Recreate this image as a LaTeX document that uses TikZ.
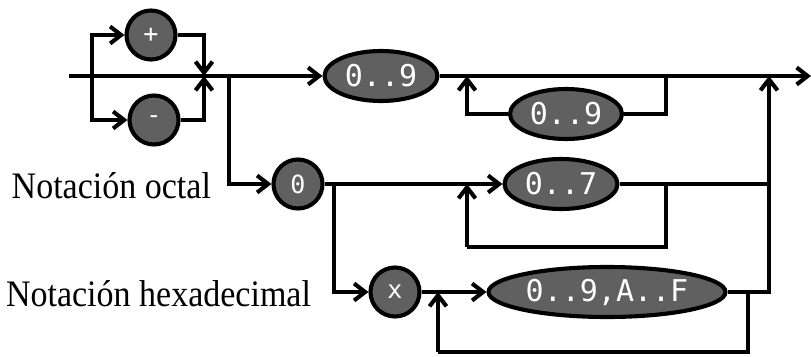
\documentclass[tikz,border=0pt]{standalone}
\usepackage{fontspec}
\setmainfont{Liberation Serif}
\newfontfamily\codefont{DejaVu Sans Mono}
\usetikzlibrary{arrows.meta,shapes.geometric}
\definecolor{nodegray}{HTML}{606060}
\begin{document}
\begin{tikzpicture}[x=1pt,y=-1pt,line width=4.1pt,
  term/.style={draw=black,fill=nodegray,text=white,inner sep=0pt},
  rnd/.style={term,circle,minimum size=49pt,font=\codefont\fontsize{25}{28}\selectfont},
  ell/.style={term,ellipse,minimum height=50pt,font=\codefont\fontsize{30}{33}\selectfont},
  arr/.style={-{Straight Barb[length=11pt,width=17pt]}},
  lbl/.style={font=\fontsize{34}{40}\selectfont,anchor=east,inner sep=0pt}]
\useasboundingbox (0,0) rectangle (811,356);
% nodes
\node[rnd] (plus) at (151,35) {+};
\node[rnd] (minus) at (154,120) {-};
\node[ell,minimum width=113pt] (d9) at (381,76) {0..9};
\node[ell,minimum width=112pt] (d9b) at (566,114) {0..9};
\node[rnd] (zero) at (298,184) {0};
\node[ell,minimum width=113pt] (d7) at (561,184) {0..7};
\node[rnd] (xn) at (395,292) {x};
\node[ell,minimum width=237pt] (hex) at (607,292) {0..9,A..F};
\node[lbl] (oct) at (213,186) {\scalebox{1}[1.1]{Notación octal}};
\node[lbl] (hxl) at (313,294) {\scalebox{1}[1.1]{Notación hexadecimal}};
% coordinates
\coordinate (start) at (69,76);
\coordinate (end) at (811,76);
\coordinate (sp) at (92,76);
\coordinate (jm) at (204,76);
\coordinate (b1) at (229,76);
\coordinate (l1r) at (666,76);
\coordinate (l1l) at (467,76);
\coordinate (jr) at (769,76);
\coordinate (jo) at (769,184);
\coordinate (b2) at (334,184);
\coordinate (l2r) at (666,184);
\coordinate (l2rb) at (666,247);
\coordinate (l2lb) at (467,247);
\coordinate (l2l) at (467,184);
\coordinate (l3r) at (748,292);
\coordinate (l3rb) at (748,352);
\coordinate (l3lb) at (438,352);
\coordinate (l3l) at (438,292);
% connectors
\draw[arr] (start) -- (d9);
\draw[arr] (d9) -- (end);
\draw (sp) ++(0,-41) -- ++(0,84);
\draw[arr] (sp) |- (plus);
\draw[arr] (sp) |- (minus);
\draw[arr] (plus) -| (jm);
\draw[arr] (minus) -| (jm);
\draw[arr] (b1) |- (zero);
\draw (l1r) |- (d9b);
\draw[arr] (d9b) -| (l1l);
\draw[arr] (zero) -- (d7);
\draw (d7) -- (jo);
\draw (l2r) -- (l2rb) -- (l2lb);
\draw[arr] (l2lb) -- (l2l);
\draw[arr] (b2) |- (xn);
\draw[arr] (xn) -- (hex);
\draw[arr] (hex) -| (jr);
\draw (l3r) -- (l3rb) -- (l3lb);
\draw[arr] (l3lb) -- (l3l);
\end{tikzpicture}
\end{document}
